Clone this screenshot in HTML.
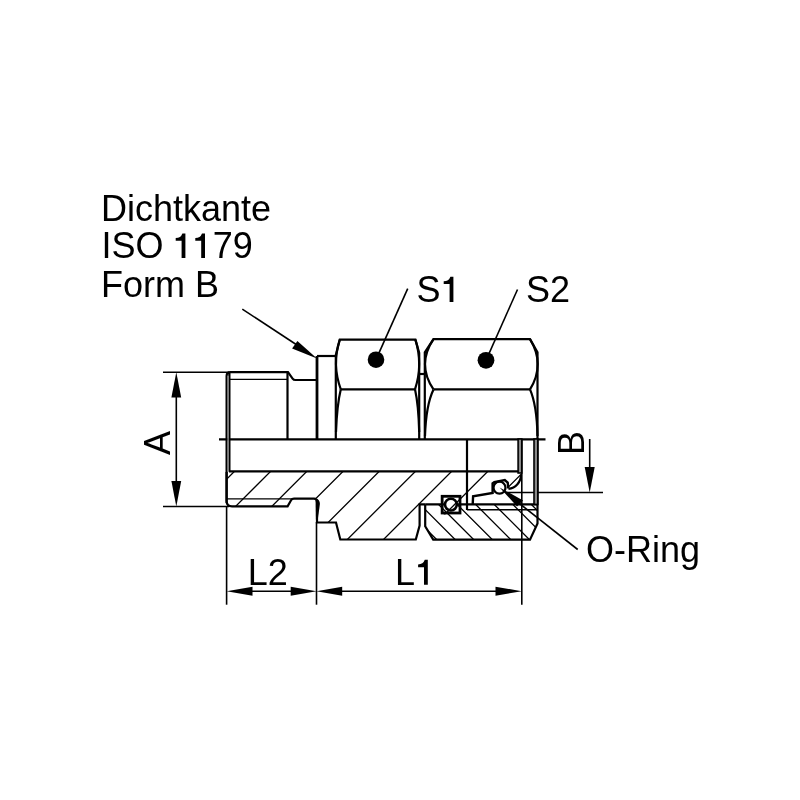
<!DOCTYPE html>
<html><head><meta charset="utf-8">
<style>
html,body{margin:0;padding:0;background:#fff;width:800px;height:800px;overflow:hidden}
svg{display:block;will-change:transform}
text{font-family:"Liberation Sans",sans-serif;font-size:36px;fill:#000}
</style></head><body>
<svg width="800" height="800" viewBox="0 0 800 800">
<defs>
<clipPath id="bodyclip"><path d="M229,472 L521,472 L521,475 A14,14 0 0 1 508,489 L507.7,482.5 L504.8,480 L494.3,482.1 L492.6,483.3 L492.6,493 L473.1,496.3 L472.7,504.4 L461.3,504.4 L461.3,514.5 L441,514.5 L441,504.4 L425,504.4 L419.6,504.4 L419.6,525.5 L415.8,539.5 L340.3,539.5 L336,522.5 L317,522.5 L317,498.6 L294,498.6 L291.2,500 L287.6,506.3 L226.6,506.3 L226.6,472 Z"/></clipPath>
<clipPath id="nutclip"><path d="M424.6,504.4 L537.6,504.4 L537.6,523.5 L530,539.6 L433.4,539.6 L424.6,526.5 Z"/></clipPath>
</defs>
<rect width="800" height="800" fill="#fff"/>

<!-- texts -->
<text x="101" y="220.5">Dichtkante</text>
<text x="101.5" y="258">ISO</text>
<text x="212.8" y="258">79</text>
<text x="101" y="296.5">Form B</text>
<text x="416.4" y="302">S</text>
<text x="526" y="302">S2</text>
<text x="586" y="562.3">O-Ring</text>
<text x="247.8" y="585">L2</text>
<text x="395" y="584.7">L</text>
<path fill="#000" d="M185.4,258 V233.4 H182.4 Q180.8,238.0 175.7,238.0 V240.8 H181.6 V258 Z M205,258 V233.4 H202.0 Q200.4,238.0 195.3,238.0 V240.8 H201.2 V258 Z M453.4,302 V276.7 H450.4 Q448.8,281.3 443.7,281.3 V284.1 H449.6 V302 Z M427.8,584.7 V559.8000000000001 H424.8 Q423.2,564.4 418.1,564.4 V567.2 H424.0 V584.7 Z"/>
<text transform="translate(170,443) rotate(-90)" text-anchor="middle">A</text>
<text transform="translate(584,443) rotate(-90)" text-anchor="middle">B</text>

<!-- hatching body (/) -->
<g clip-path="url(#bodyclip)" stroke="#000" stroke-width="1.3">
<path d="M209.6,460 L124.6,545 M245.8,460 L160.8,545 M282.0,460 L197.0,545 M318.2,460 L233.2,545 M354.4,460 L269.4,545 M390.6,460 L305.6,545 M426.8,460 L341.8,545 M463.0,460 L378.0,545 M499.2,460 L414.2,545 M535.4,460 L450.4,545 M571.6,460 L486.6,545 M607.8,460 L522.8,545"/>
</g>
<!-- hatching nut (\) -->
<g clip-path="url(#nutclip)" stroke="#000" stroke-width="1.3">
<path d="M359.9,500 L404.9,545 M378.5,500 L423.5,545 M397.1,500 L442.1,545 M415.6,500 L460.6,545 M434.1,500 L479.1,545 M452.7,500 L497.7,545 M471.2,500 L516.2,545 M489.8,500 L534.8,545 M508.4,500 L553.4,545 M526.9,500 L571.9,545 M545.5,500 L590.5,545"/>
</g>

<g fill="none" stroke="#000" stroke-linecap="butt" stroke-linejoin="miter">
<!-- thin dimension lines -->
<g stroke-width="1.6">
<path d="M163,372.2 H229"/>
<path d="M163,506.5 H229"/>
<path d="M176.3,395 V484"/>
<path d="M226.6,506 V604.7"/>
<path d="M316.5,522 V604.7"/>
<path d="M521.8,439 V604.7"/>
<path d="M250,591.2 H295 M340,591.2 H498"/>
<path d="M589.7,439 V470"/>
<path d="M507,492.5 H603"/>
<path d="M242.3,309.1 L300,347"/>
<path d="M407.7,288.7 L376,359.7"/>
<path d="M517.5,289.5 L486,360.3"/>
<path d="M577.7,549.5 L515,500"/>
<path d="M229,379.4 H288" stroke-width="1.3"/>
<path d="M227,498.9 H292" stroke-width="1.3"/>
</g>
<!-- thick outline -->
<g stroke-width="2.2">
<path d="M219,439.4 H545.5"/>
<path d="M229.4,471.5 V372.2 M226.6,503 V376 Q226.6,372.2 230.4,372.2 H288 L292.6,378.6 Q293.6,380 295.5,380 H317"/>
<path d="M287.5,372.2 V439"/>
<path d="M317,439 V356" stroke-width="2.8"/><path d="M317,356 H335.8"/>
<path d="M229,471.4 H518"/>
<path d="M226.6,472 V501 Q226.6,506.3 232,506.3 H287.6 L291.2,500 Q292,498.6 294,498.6 H314 Q317,498.6 317,502 V522.5 H336 L340.3,539.5 H415.8 L419.6,525.5 V504.4 H425.2"/>
<!-- S1 hex -->
<path d="M335.8,439 V355.2 L339.8,339.6 H415.4 L419.2,353 V439"/>
<path d="M340.8,389.3 H415"/>
<path d="M339.8,339.6 Q331.7,364.5 340.8,389.3"/>
<path d="M415.4,339.6 Q423.2,364.5 415,389.3"/>
<path d="M340.8,389.3 Q337,405 336,432"/>
<path d="M415,389.3 Q418.5,405 419.2,432"/>
<path d="M419.2,374 H425"/>
<!-- S2 hex -->
<path d="M424.8,439 V352.3 L433.5,339.1 H530 L537.5,352.3 V523.5 L530,539.6 H433.2 L425.2,526.2 V504.4"/>
<path d="M433.5,389.4 H530"/>
<path d="M433.5,339.1 Q416.5,364.3 433.5,389.4"/>
<path d="M530,339.1 Q545.5,364.3 530,389.4"/>
<path d="M433.5,389.4 Q426,405 425,436"/>
<path d="M530,389.4 Q536.8,405 537.5,436"/>
<!-- S2 internals -->
<path d="M425.2,504.3 H537.5"/>
<path d="M467,439 V510"/><path d="M467,509.7 H537.5" stroke-width="1.4"/>
<path d="M472.7,504.4 L473.1,496.3 L492.6,493 L492.6,483.3 L494.3,482.1 L504.8,480 L507.7,482.5 L508.3,488.5" stroke-width="2.4"/>
<path d="M521,474.8 A14,14 0 0 1 508.5,488.8"/>
</g>
<rect x="227.4" y="376" width="1.4" height="95.5" fill="#8a8a8a" stroke="none"/>
<rect x="518.1" y="439" width="3.7" height="34" fill="#8a8a8a" stroke="#000" stroke-width="1.6"/>
<rect x="534" y="439" width="3.8" height="65.4" fill="#8a8a8a" stroke="#000" stroke-width="1.6"/>
<rect x="442.15" y="496.3" width="17.85" height="16.7" stroke-width="2.8"/>
<circle cx="450.9" cy="504.6" r="5.9" stroke-width="2.6" fill="#fff"/><path d="M448.7,510.4 L456.8,502.3" stroke-width="1.3"/>
<circle cx="499.5" cy="487.7" r="6" stroke-width="2.3"/>
</g>

<path d="M315.6,498.2 Q320,499.5 319.9,504 L317.8,519.5 L315.9,519.5 Z" fill="#000"/>
<!-- dots -->
<circle cx="376" cy="359.7" r="8.3" fill="#000"/>
<circle cx="486" cy="360.3" r="8.4" fill="#000"/>

<!-- arrowheads -->
<g fill="#000">
<path d="M176.3,372.2 L171.4,397.5 L181.2,397.5 Z"/>
<path d="M176.3,506.5 L171.4,481 L181.2,481 Z"/>
<path d="M589.7,492.5 L584.7,467 L594.7,467 Z"/>
<path d="M226.6,591.2 L252.5,586.7 L252.5,595.7 Z"/>
<path d="M316.5,591.2 L290.7,586.7 L290.7,595.7 Z"/>
<path d="M316.5,591.2 L342.2,586.7 L342.2,595.7 Z"/>
<path d="M521.8,591.2 L495.5,586.7 L495.5,595.7 Z"/>
<path d="M317,358.4 L297.4,340.9 L292.1,348.4 Z"/>
<path d="M499.6,487.4 L523.1,500.4 L517,506.5 Z"/>
</g>
</svg>
</body></html>
